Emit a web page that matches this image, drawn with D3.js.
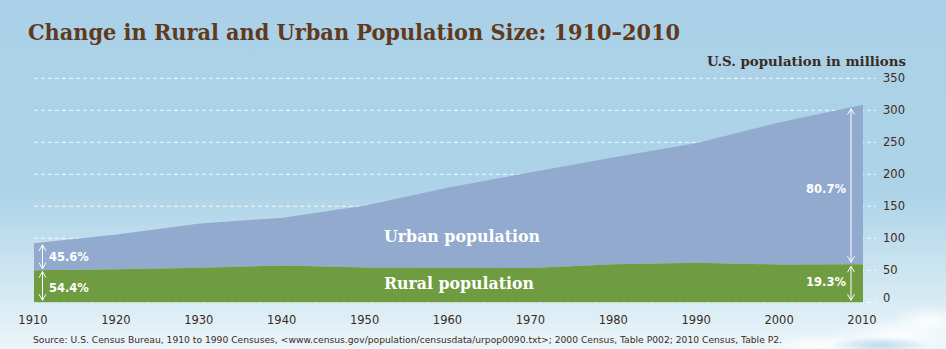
<!DOCTYPE html>
<html><head><meta charset="utf-8">
<script src="https://cdn.jsdelivr.net/npm/d3@7"></script>
<style>html,body{margin:0;padding:0;overflow:hidden;background:#fff}</style>
</head><body>
<script>
const years = [1910,1920,1930,1940,1950,1960,1970,1980,1990,2000,2010];
const rural = [50.2,51.8,54.0,57.5,54.5,54.1,53.6,59.5,61.7,59.1,59.5];
const urban = [42.0,54.2,69.2,74.7,96.8,125.3,149.6,167.1,187.1,222.4,249.3];
const yTicks = [0,50,100,150,200,250,300,350];
const xTicks = [1910,1920,1930,1940,1950,1960,1970,1980,1990,2000,2010];
const pct1910 = ["45.6%","54.4%"];
const pct2010 = ["80.7%","19.3%"];

const W=946,H=349;
const svg=d3.select("body").append("svg").attr("width",W).attr("height",H);
const defs=svg.append("defs");
const g=defs.append("linearGradient").attr("id","bg").attr("x1",0).attr("y1",0).attr("x2",0).attr("y2",1);
g.append("stop").attr("offset","0%").attr("stop-color","#aad1e7");
g.append("stop").attr("offset","55%").attr("stop-color","#add3e8");
g.append("stop").attr("offset","80%").attr("stop-color","#cfe6f2");
g.append("stop").attr("offset","100%").attr("stop-color","#ebf5f9");
svg.append("rect").attr("width",W).attr("height",H).attr("fill","url(#bg)");
// soft clouds bottom right
const cg=defs.append("radialGradient").attr("id","cloud");
cg.append("stop").attr("offset","0%").attr("stop-color","#ffffff").attr("stop-opacity",0.9);
cg.append("stop").attr("offset","100%").attr("stop-color","#ffffff").attr("stop-opacity",0);
[[900,335,70,18],[820,345,60,12],[930,320,40,15]].forEach(c=>svg.append("ellipse").attr("cx",c[0]).attr("cy",c[1]).attr("rx",c[2]).attr("ry",c[3]).attr("fill","url(#cloud)"));
const cb=defs.append("radialGradient").attr("id","cloudb");
cb.append("stop").attr("offset","0%").attr("stop-color","#a9cde3").attr("stop-opacity",0.7);
cb.append("stop").attr("offset","100%").attr("stop-color","#a9cde3").attr("stop-opacity",0);
svg.append("ellipse").attr("cx",880).attr("cy",345).attr("rx",50).attr("ry",8).attr("fill","url(#cloudb)");

const x=d3.scaleLinear().domain([1910,2010]).range([34,863]);
const y=d3.scaleLinear().domain([0,350]).range([302.3,78.3]);

// gridlines
svg.append("g").selectAll("line").data(yTicks).join("line")
  .attr("x1",34).attr("x2",876).attr("y1",d=>y(d)).attr("y2",d=>y(d))
  .attr("stroke","#ffffff").attr("stroke-opacity",0.85).attr("stroke-width",1).attr("stroke-dasharray","4,3");

const data=years.map((yr,i)=>({yr,r:rural[i],u:urban[i]}));
const stack=d3.stack().keys(["r","u"])(data);
const area=d3.area().x(d=>x(d.data.yr)).y0(d=>y(d[0])).y1(d=>y(d[1]));
svg.append("path").datum(stack[1]).attr("d",area).attr("fill","#91aacd");
svg.append("path").datum(stack[0]).attr("d",area).attr("fill","#6f9b41");

// y tick labels
svg.append("g").selectAll("text").data(yTicks).join("text")
  .attr("x",883).attr("y",d=>y(d)+(d===0?0:4)).text(d=>d)
  .attr("font-family","DejaVu Sans, Verdana, sans-serif").attr("font-size",11.5).attr("fill","#3b2b22");
// x tick labels
svg.append("g").selectAll("text").data(xTicks).join("text")
  .attr("x",d=>x(d)-1).attr("y",324).attr("text-anchor","middle").text(d=>d)
  .attr("font-family","DejaVu Sans, Verdana, sans-serif").attr("font-size",11.5).attr("fill","#3b2b22");

// title
svg.append("text").attr("x",28).attr("y",40).text("Change in Rural and Urban Population Size: 1910–2010")
  .attr("font-family","DejaVu Serif, serif").attr("font-weight","bold").attr("font-size",22)
  .attr("textLength",652).attr("lengthAdjust","spacingAndGlyphs").attr("fill","#61391c");
svg.append("text").attr("x",906).attr("y",66).attr("text-anchor","end").text("U.S. population in millions")
  .attr("font-family","DejaVu Serif, serif").attr("font-weight","bold").attr("font-size",13)
  .attr("textLength",199).attr("lengthAdjust","spacingAndGlyphs").attr("fill","#3b2b22");

// labels
svg.append("text").attr("x",384).attr("y",242).text("Urban population")
  .attr("font-family","DejaVu Serif, serif").attr("font-weight","bold").attr("font-size",16)
  .attr("textLength",156).attr("lengthAdjust","spacingAndGlyphs").attr("fill","#ffffff");
svg.append("text").attr("x",384).attr("y",289).text("Rural population")
  .attr("font-family","DejaVu Serif, serif").attr("font-weight","bold").attr("font-size",16)
  .attr("textLength",150).attr("lengthAdjust","spacingAndGlyphs").attr("fill","#ffffff");

// arrows
function arrow(xp,y1,y2){
  const gA=svg.append("g").attr("stroke","#ffffff").attr("stroke-width",1).attr("fill","none");
  gA.append("line").attr("x1",xp).attr("x2",xp).attr("y1",y1).attr("y2",y2);
  gA.append("path").attr("d",`M${xp-3.5},${y1+6}L${xp},${y1}L${xp+3.5},${y1+6}`);
  gA.append("path").attr("d",`M${xp-3.5},${y2-6}L${xp},${y2}L${xp+3.5},${y2-6}`);
}
const i0=0,iN=years.length-1;
arrow(42.5,y(rural[i0]+urban[i0])+1.5,y(rural[i0])-1.5);
arrow(42.5,y(rural[i0])+1.5,y(0)-2);
arrow(851,y(rural[iN]+urban[iN])+4,y(rural[iN])-2);
arrow(851,y(rural[iN])+2,y(0)-2);

const pf={"font-family":"DejaVu Sans, Verdana, sans-serif","font-weight":"bold","font-size":11.5,"fill":"#ffffff"};
function ptxt(t,xp,yp,anchor){const e=svg.append("text").attr("x",xp).attr("y",yp).attr("text-anchor",anchor).text(t);Object.entries(pf).forEach(([k,v])=>e.attr(k,v));}
ptxt(pct1910[0],49,261,"start");
ptxt(pct1910[1],49,292,"start");
ptxt(pct2010[0],846,193,"end");
ptxt(pct2010[1],846,286,"end");

svg.append("text").attr("x",33).attr("y",343)
  .text("Source: U.S. Census Bureau, 1910 to 1990 Censuses, <www.census.gov/population/censusdata/urpop0090.txt>; 2000 Census, Table P002; 2010 Census, Table P2.")
  .attr("font-family","DejaVu Sans, Verdana, sans-serif").attr("font-size",9)
  .attr("textLength",749).attr("lengthAdjust","spacingAndGlyphs").attr("fill","#3b2b22");
</script>
</body></html>
